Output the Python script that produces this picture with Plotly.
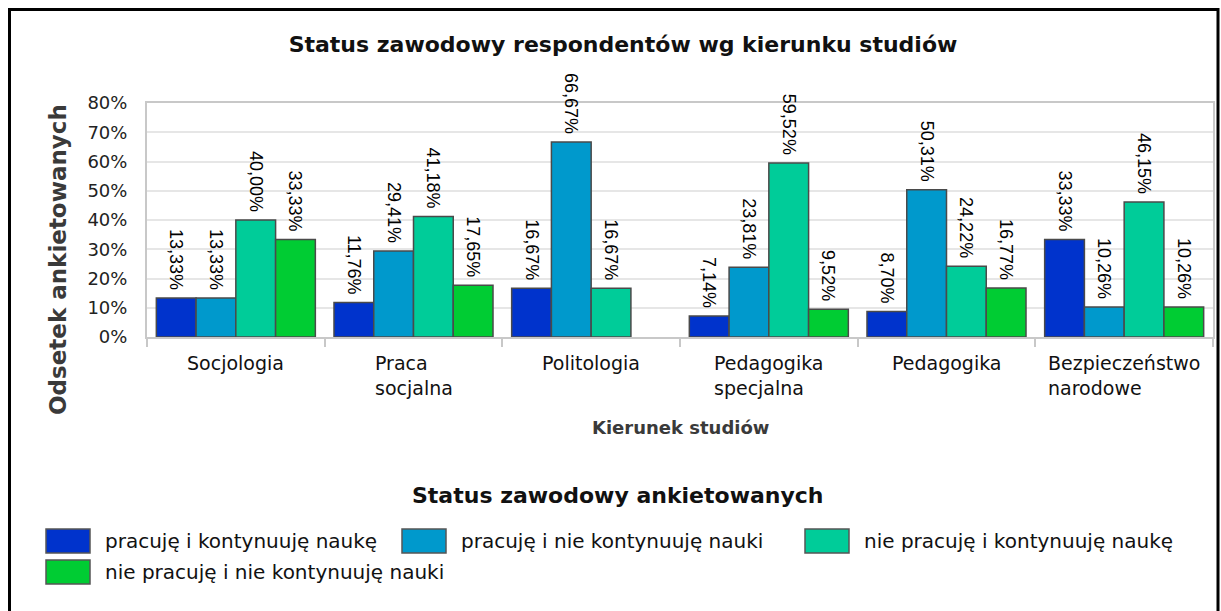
import plotly.graph_objects as go

# ---------------- data ----------------
categories = ["Socjologia", "Praca socjalna", "Politologia",
              "Pedagogika specjalna", "Pedagogika", "Bezpieczeństwo narodowe"]
category_labels = ["Socjologia", "Praca<br>socjalna", "Politologia",
                   "Pedagogika<br>specjalna", "Pedagogika", "Bezpieczeństwo<br>narodowe"]

series_names = ["pracuję i kontynuuję naukę",
                "pracuję i nie kontynuuję nauki",
                "nie pracuję i kontynuuję naukę",
                "nie pracuję i nie kontynuuję nauki"]

pracuje_kontynuuje = [13.33, 11.76, 16.67, 7.14, 8.70, 33.33]
pracuje_nie_kontynuuje = [13.33, 29.41, 66.67, 23.81, 50.31, 10.26]
nie_pracuje_kontynuuje = [40.00, 41.18, 16.67, 59.52, 24.22, 46.15]
nie_pracuje_nie_kontynuuje = [33.33, 17.65, None, 9.52, 16.77, 10.26]

series_values = [pracuje_kontynuuje, pracuje_nie_kontynuuje,
                 nie_pracuje_kontynuuje, nie_pracuje_nie_kontynuuje]
series_colors = ["#0033CC", "#0099CC", "#00CC99", "#00CC33"]

y_ticks = [0, 10, 20, 30, 40, 50, 60, 70, 80]

title_text = "Status zawodowy respondentów wg kierunku studiów"
y_title = "Odsetek ankietowanych"
x_title = "Kierunek studiów"
legend_title = "Status zawodowy ankietowanych"

# ---------------- layout geometry (pixels) ----------------
W, H = 1221, 611
PL, PR, PT, PB = 147, 1213, 103, 337


def px(x):
    return (x - PL) / (PR - PL)


def py(y):
    return (PB - y) / (PB - PT)


def fmt(v):
    # trailing no-break space gives the small gap between label and bar top
    return "" if v is None else f"{v:.2f}".replace(".", ",") + "%\u00a0"


fig = go.Figure()
for name, vals, col in zip(series_names, series_values, series_colors):
    fig.add_trace(go.Bar(
        x=categories, y=vals, name=name,
        marker=dict(color=col, line=dict(color="#4a4a4a", width=1.5)),
        text=[fmt(v) for v in vals],
        textposition="outside", textangle=90,
        textfont=dict(family="Liberation Sans, Arial, sans-serif", size=18, color="#000"),
        cliponaxis=False, constraintext="none",
        showlegend=False,
    ))

shapes = []
annotations = []

# category labels (left aligned lines, centred block)
for cat, lab in zip(categories, category_labels):
    annotations.append(dict(
        x=cat, y=0, xref="x", yref="y", text=lab, showarrow=False,
        xanchor="center", yanchor="top", align="left", yshift=-13,
        font=dict(family="DejaVu Sans, sans-serif", size=19, color="#111"),
    ))

# axis titles
annotations.append(dict(
    x=px(58), y=py(260), xref="paper", yref="paper", text=f"<b>{y_title}</b>",
    showarrow=False, textangle=-90, xanchor="center", yanchor="middle",
    font=dict(family="DejaVu Sans, sans-serif", size=23, color="#3a3a3a"),
))
annotations.append(dict(
    x=px(680), y=py(427), xref="paper", yref="paper", text=f"<b>{x_title}</b>",
    showarrow=False, xanchor="center", yanchor="middle",
    font=dict(family="DejaVu Sans, sans-serif", size=18, color="#3a3a3a"),
))
# legend title
annotations.append(dict(
    x=px(618), y=py(495), xref="paper", yref="paper", text=f"<b>{legend_title}</b>",
    showarrow=False, xanchor="center", yanchor="middle",
    font=dict(family="DejaVu Sans, sans-serif", size=22, color="#111"),
))

# custom legend
legend_pos = [(46, 541), (402, 541), (805, 541), (46, 572)]
for (lx, ly), name, col in zip(legend_pos, series_names, series_colors):
    shapes.append(dict(
        type="rect", xref="paper", yref="paper",
        x0=px(lx), x1=px(lx + 44), y0=py(ly - 12), y1=py(ly + 12),
        fillcolor=col, line=dict(color="#555", width=1.5),
    ))
    annotations.append(dict(
        x=px(lx + 57), y=py(ly), xref="paper", yref="paper", text=name,
        showarrow=False, xanchor="left", yanchor="middle",
        font=dict(family="DejaVu Sans, sans-serif", size=20, color="#111"),
    ))

# outer black frame (bottom edge falls outside the canvas, as in the reference)
shapes.append(dict(
    type="rect", xref="paper", yref="paper",
    x0=px(9.5), x1=px(1218), y0=py(9.5), y1=py(615),
    line=dict(color="#000", width=3), fillcolor="rgba(0,0,0,0)", layer="below",
))

fig.update_layout(
    width=W, height=H,
    margin=dict(l=PL, r=W - PR, t=PT, b=H - PB, autoexpand=False),
    paper_bgcolor="white", plot_bgcolor="white",
    barmode="group", bargap=0.105, bargroupgap=0,
    title=dict(
        text=f"<b>{title_text}</b>", x=623 / W, xanchor="center",
        y=1 - 44 / H, yanchor="middle",
        font=dict(family="DejaVu Sans, sans-serif", size=22, color="#111"),
    ),
    showlegend=False,
    shapes=shapes,
    annotations=annotations,
    font=dict(family="DejaVu Sans, sans-serif"),
)

fig.update_xaxes(
    type="category", showticklabels=False,
    tickson="boundaries", ticks="outside", ticklen=8, tickcolor="#c8c8c8", tickwidth=2,
    showline=True, linecolor="#c8c8c8", linewidth=2, mirror=True,
    showgrid=False, zeroline=False, layer="below traces",
)
fig.update_yaxes(
    range=[0, 80], tickvals=y_ticks, ticktext=[f"{t}%" for t in y_ticks],
    showgrid=True, gridcolor="#e6e6e6", gridwidth=2,
    showline=True, linecolor="#c8c8c8", linewidth=2, mirror=True,
    zeroline=False, ticks="", ticklabelstandoff=14, layer="below traces",
    tickfont=dict(family="DejaVu Sans, sans-serif", size=18, color="#222"),
)

fig.write_html("out.html", config={"displayModeBar": False},
               post_script="document.body.style.margin='0';")
